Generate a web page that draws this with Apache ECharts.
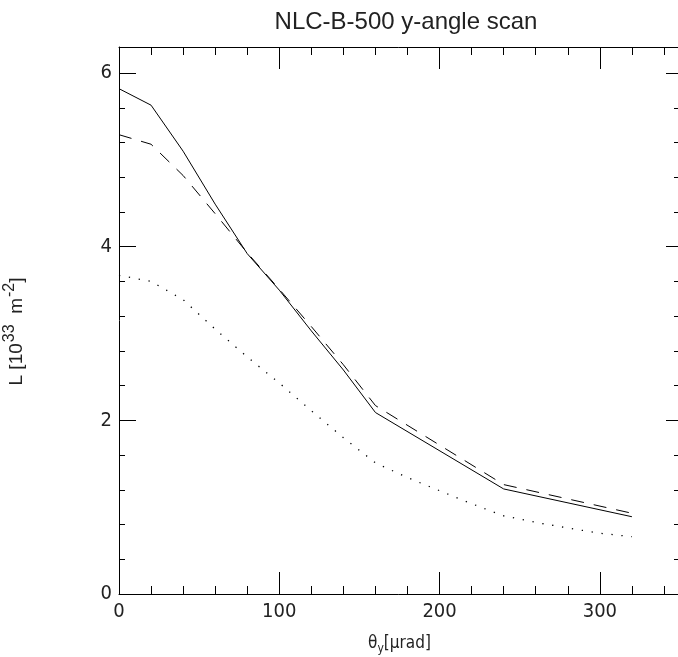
<!DOCTYPE html>
<html>
<head>
<meta charset="utf-8">
<script src="https://cdn.jsdelivr.net/npm/echarts@6/dist/echarts.min.js"></script>
<style>
html, body { margin: 0; padding: 0; background: #fff; }
#main { width: 678px; height: 657px; }
</style>
</head>
<body>
<div id="main"></div>
<script>
// theta_y in urad
var solidX = [0, 20, 40, 60, 80, 100, 120, 140, 160, 240, 320];
var solidY = [5.82, 5.63, 5.10, 4.49, 3.92, 3.50, 3.03, 2.58, 2.09, 1.21, 0.89];
var dashX = [0, 20, 40, 60, 80, 100, 120, 140, 160, 240, 320];
var dashY = [5.29, 5.18, 4.82, 4.38, 3.93, 3.51, 3.08, 2.64, 2.17, 1.26, 0.93];
var dotX = [0, 20, 40, 60, 80, 100, 120, 140, 160, 180, 200, 220, 240, 260, 280, 300, 320];
var dotY = [3.67, 3.60, 3.39, 3.05, 2.73, 2.43, 2.11, 1.80, 1.51, 1.34, 1.19, 1.04, 0.90, 0.825, 0.76, 0.70, 0.66];

var xMin = 0, xMax = 350, yMin = 0, yMax = 6.3;
var font = "'Liberation Sans Narrow', 'DejaVu Sans Condensed', sans-serif";
var font2 = "'Liberation Sans', 'DejaVu Sans', sans-serif";
var txt = '#222';

function pairs(xs, ys) {
    var out = [];
    for (var i = 0; i < xs.length; i++) out.push([xs[i], ys[i]]);
    return out;
}

function xAx(pos, interval, len, labels, line) {
    return {
        type: 'value', position: pos, min: xMin, max: xMax, interval: interval,
        axisLine: {show: line, onZero: false, lineStyle: {color: '#000', width: 1}},
        axisTick: {show: true, inside: true, length: len, lineStyle: {color: '#000', width: 1}},
        axisLabel: {show: labels, showMaxLabel: false, margin: 8,
            fontFamily: font, fontSize: 20, color: txt},
        splitLine: {show: false}
    };
}
function yAx(pos, interval, len, labels, line) {
    return {
        type: 'value', position: pos, min: yMin, max: yMax, interval: interval,
        axisLine: {show: line, onZero: false, lineStyle: {color: '#000', width: 1}},
        axisTick: {show: true, inside: true, length: len, lineStyle: {color: '#000', width: 1}},
        axisLabel: {show: labels, showMaxLabel: false, margin: 7,
            fontFamily: font, fontSize: 20, color: txt},
        splitLine: {show: false}
    };
}

var myChart = echarts.init(document.getElementById('main'));

var xMajor = xAx('bottom', 100, 22, true, true);
xMajor.name = '{n|θ}{s|y}{n|[μrad]}';
xMajor.nameLocation = 'middle';
xMajor.nameGap = 39;
xMajor.nameTextStyle = {
    rich: {
        n: {fontFamily: font, fontSize: 17, color: txt},
        s: {fontFamily: font, fontSize: 12, color: txt, padding: [10, 0, 0, 0]}
    }
};

var yMajor = yAx('left', 2, 17, true, true);
yMajor.name = '{n|L [10}{p|33}{n|  m}{p|-2}{n|]}';
yMajor.nameLocation = 'middle';
yMajor.nameGap = 88;
yMajor.nameTextStyle = {
    padding: [0, 0, 0, -22],
    rich: {
        n: {fontFamily: font2, fontSize: 19, color: txt},
        p: {fontFamily: font2, fontSize: 16, color: txt, padding: [0, 0, 13, 1]}
    }
};

var option = {
    animation: false,
    title: {
        text: 'NLC-B-500 y-angle scan',
        left: 401, top: 5, textAlign: 'center',
        textStyle: {fontFamily: font2, fontSize: 24, fontWeight: 'normal', color: txt}
    },
    grid: {left: 119, right: -2, top: 47, bottom: 63, containLabel: false, outerBoundsMode: 'none'},
    xAxis: [
        xMajor,
        xAx('bottom', 20, 8, false, false),
        xAx('top', 100, 22, false, true),
        xAx('top', 20, 8, false, false)
    ],
    yAxis: [
        yMajor,
        yAx('left', 0.4, 6, false, false),
        yAx('right', 2, 14, false, false),
        yAx('right', 0.4, 6, false, false)
    ],
    series: [
        {
            name: 'solid', type: 'line', data: pairs(solidX, solidY),
            showSymbol: false, symbol: 'none',
            lineStyle: {color: '#000', width: 1, type: 'solid'}
        },
        {
            name: 'dashed', type: 'line', data: pairs(dashX, dashY),
            showSymbol: false, symbol: 'none',
            lineStyle: {color: '#000', width: 1, type: [13, 10]}
        },
        {
            name: 'dotted', type: 'line', data: pairs(dotX, dotY),
            showSymbol: false, symbol: 'none',
            lineStyle: {color: '#000', width: 1.3, type: [1.3, 8.7]}
        }
    ]
};

if (option && typeof option === "object") {
    myChart.setOption(option, true);
}
</script>
</body>
</html>
